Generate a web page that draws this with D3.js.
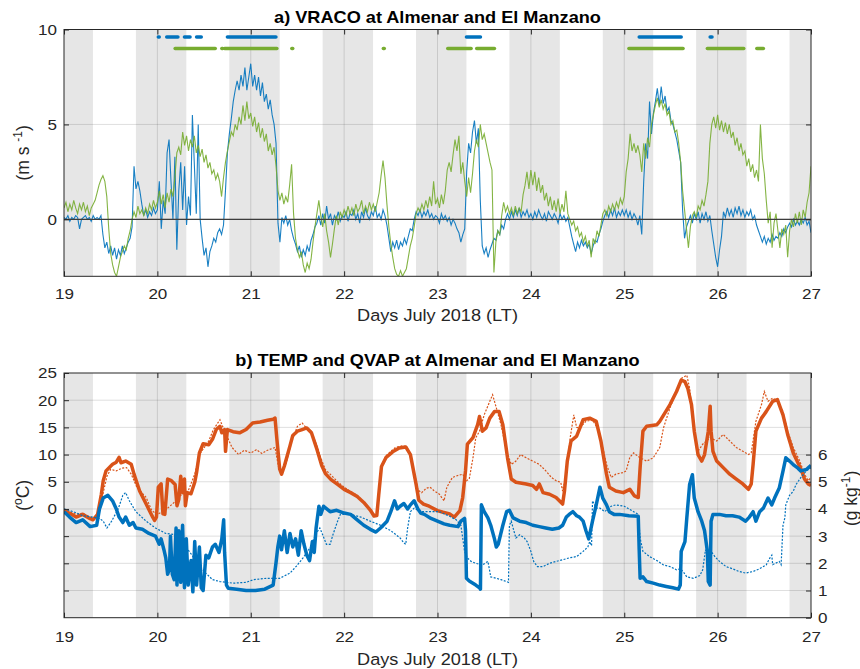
<!DOCTYPE html>
<html>
<head>
<meta charset="utf-8">
<script src="https://cdn.jsdelivr.net/npm/d3@7"></script>
<style>
  body { margin: 0; background: #ffffff; }
  svg text { font-family: "Liberation Sans", Arial, Helvetica, sans-serif; fill: #262626; }
</style>
</head>
<body>
<svg id="chart" width="860" height="669"></svg>
<script>
// ---------- shared time axis ----------
const dayTicks = [19, 20, 21, 22, 23, 24, 25, 26, 27];
// night periods (shaded bands), in days of July 2018 (LT)
const nights = [[19.0, 19.31], [19.77, 20.31], [20.77, 21.31], [21.77, 22.31], [22.77, 23.31],
                [23.77, 24.31], [24.77, 25.31], [25.77, 26.31], [26.77, 27.0]];

// ---------- panel a: VRACO (m s-1), half-hourly samples from 19 Jul 00:00 ----------
const vracoStart = 19;
const vracoStepDays = 1 / 48;
const vracoAlmenar = [
  0.1, 0.0, 0.2, -0.1, 0.1, 0.0, 0.2, 0.1, -0.5, 0.0, 0.1, 0.2, 0.0, 0.1, -0.1, 0.2, 0.0, 0.1, 0.0, 0.2,
  -0.8, -1.5, -1.2, -1.8, -1.4, -1.9, -1.5, -2.1, -1.6, -1.9, -1.4, -1.8, -1.5, -1.2, -1.0, -0.4,
  2.8, 1.6, 2.0, 1.5, 0.8, 0.2, 0.5, 0.1, 0.4, 0.2, 0.6, 0.3,
  0.5, 2.0, -0.5, 1.0, 0.3, 3.5, 4.2, 2.0, 0.0, 3.3, -1.6, 1.5,
  3.0, 0.5, 2.8, -0.3, 1.2, 0.2, 5.5, 2.9, 0.3, 5.0, 0.0, -1.0,
  -1.9, -1.5, -2.5, -1.7, -1.4, -1.0, -1.2, -0.7, -0.5, -0.8, -0.3, 1.5,
  3.5, 4.5, 5.3, 6.2, 6.8, 7.3, 6.8, 7.6, 7.0, 8.0, 6.8, 7.5,
  8.2, 7.0, 7.6, 6.8, 7.5, 6.5, 7.2, 6.2, 6.6, 5.8, 6.3, 5.5,
  5.0, 4.0, -0.2, -1.2, 0.1, -0.2, 0.2, -0.3, 0.0, -0.6, -1.0, -1.3,
  -1.7, -1.4, -2.0, -1.6, -1.9, -1.4, -1.7, -1.1, -0.8, -0.4, -0.2, 0.2,
  -0.3, 0.3, -0.2, 0.7, 0.0, 0.3, -0.3, 0.2, 0.0, 0.4, -0.1, 0.2,
  0.1, 0.4, -0.1, 0.3, 0.2, 0.5, 0.0, 0.3, -0.2, 0.4, 0.1, 0.6,
  0.2, 0.0, 0.4, 0.2, 0.7, 0.1, 0.3, 0.0, 0.5, 0.2, -0.3, -1.0,
  -1.7, -1.2, -1.5, -1.1, -1.6, -1.2, -1.4, -1.0, -1.3, -0.9, -0.5, -0.6,
  0.0, 0.4, 0.2, 0.5, 0.1, 0.4, 0.2, 0.5, 0.1, 0.3, 0.0, 0.2,
  0.1, -0.2, 0.3, 0.0, 0.2, -0.1, 0.1, -0.3, 0.0, -0.2, -0.5, -0.7,
  -1.2, -0.8, -0.5, 2.5, 4.0, 3.5, 4.6, 5.2, 4.0, 4.8, 1.0, -1.4,
  -1.8, -1.5, -2.0, -1.6, -1.3, -1.0, -1.1, -0.6, -0.8, -0.3, -0.5, 0.0,
  0.3, 0.0, 0.4, 0.1, 0.5, 0.2, 0.6, 0.1, 0.4, 0.2, 0.5, 0.1,
  0.3, 0.0, 0.4, 0.1, 0.5, 0.2, 0.0, 0.3, -0.1, 0.4, 0.2, 0.0,
  0.3, 0.1, -0.2, 0.3, 0.0, 0.2, -0.1, 0.1, -0.4, -0.9, -1.3, -1.7,
  -1.2, -1.5, -1.1, -1.4, -1.2, -1.5, -1.3, -1.8, -1.4, -1.1, -1.2, -0.8,
  -0.5, -0.1, 0.2, 0.4, 0.1, 0.5, 0.2, 0.6, 0.1, 0.4, 0.2, 0.5,
  0.2, 0.5, 0.1, 0.4, 0.0, 0.3, 0.1, -0.3, 0.2, -0.8, 2.0, 4.0,
  3.2, 6.2, 4.5, 5.6, 6.2, 6.9, 6.0, 7.0, 6.1, 6.5, 5.7, 5.9,
  5.2, 5.0, 4.6, 4.2, 3.6, 3.0, 0.5, -1.0, -0.4, -0.1, 0.2, -0.2,
  0.3, 0.0, 0.4, -0.2, 0.3, 0.0, 0.4, -0.1, 0.2, -0.6, -1.3, -2.0,
  -2.5, -1.6, -0.9, 0.4, 0.1, 0.6, 0.2, 0.5, 0.1, 0.6, 0.3, 0.7,
  0.2, 0.5, 0.1, 0.4, 0.2, 0.5, 0.0, 0.2, -0.3, -0.6, -0.9, -1.2,
  -0.9, -1.3, -1.0, -1.2, -0.8, -1.1, -0.9, -1.0, -0.7, -0.9, -0.5, -0.7,
  -0.4, -0.2, -0.4, 0.0, -0.3, -0.1, -0.3, 0.0, -0.2, 0.1, -0.3, -0.1,
  -0.7
];
const vracoManzano = [
  0.6, 0.9, 0.4, 0.8, 0.5, 1.0, 0.6, 0.3, 0.8, 0.5, 0.9, 0.4,
  0.7, 0.2, 0.6, 0.8, 1.0, 1.4, 1.8, 2.1, 2.3, 2.0, 1.2, -0.5,
  -1.8, -2.4, -2.8, -3.0, -2.5, -2.0, -1.7, -1.4, -1.6, -1.0, -0.6, 0.0,
  0.4, 0.1, 0.7, 0.3, 0.5, 0.2, 0.6, 0.3, 0.8, 0.5, 1.0, 0.6,
  0.9, 1.5, 0.8, 1.3, 0.6, 1.4, 0.9, 1.6, 1.2, 2.2, 3.5, 3.8,
  3.4, 4.6, 3.9, 4.4, 3.6, 4.2, 3.8, 4.4, 3.5, 3.9, 3.3, 3.7,
  3.0, 3.4, 2.7, 3.0, 2.4, 2.6, 2.1, 2.4, 2.0, 1.2, 2.2, 3.0,
  3.6, 4.1, 4.6, 4.4, 5.0, 4.7, 5.4, 5.0, 6.0, 5.2, 6.2, 5.3,
  5.6, 4.9, 5.4, 4.6, 5.1, 4.3, 4.8, 4.1, 4.5, 3.6, 4.0, 3.4,
  3.8, 2.8, 1.5, 1.0, 1.4, 0.8, 1.2, 0.9, 1.8, 2.9, 0.3, -1.0,
  -1.6, -2.0, -1.7, -2.4, -2.8, -2.3, -2.6, -2.1, -1.2, -0.4, 0.3, 1.0,
  0.2, -0.4, 0.3, -0.6, -1.2, -2.0, -1.3, -0.5, 0.2, -0.3, 0.4, 0.1,
  0.5, 0.2, 0.7, 0.3, 0.6, 0.2, 0.8, 0.4, 0.6, 1.0, 0.3, 0.7,
  0.4, 0.9, 0.5, 0.8, 0.4, 0.9, 1.4, 2.3, 3.1, 2.2, 0.8, -0.4,
  -1.3, -2.0, -2.6, -2.9, -3.0, -2.7, -3.0, -2.8, -2.6, -2.0, -1.4, -1.0,
  -0.4, 0.3, 0.6, 0.4, 0.8, 0.5, 1.0, 0.6, 1.2, 0.7, 2.0, 0.8,
  1.1, 0.6, 1.3, 0.8, 1.5, 2.6, 3.0, 2.5, 3.4, 4.2, 3.6, 4.4,
  2.4, 3.0, 2.0, 1.2, 2.2, 1.4, 2.4, 3.6, 4.2, 3.8, 5.0, 4.2,
  4.5, 4.0, 3.5, 3.0, 2.6, -2.8, -1.2, -0.6, -0.8, 0.2, 0.9, 0.4,
  0.7, 0.3, 0.6, 0.2, 0.7, 0.3, 0.6, 0.4, 1.3, 1.8, 2.5, 1.6,
  2.6, 1.8, 2.5, 1.5, 2.2, 1.4, 1.8, 1.0, 1.4, 0.7, 1.2, 0.5,
  1.0, 0.4, 1.1, 0.3, 0.8, 0.4, 1.5, 0.3, 0.0, -0.3, -0.1, -0.6,
  -0.4, -0.9, -0.7, -1.2, -0.9, -1.4, -1.1, -2.0, -1.0, -1.3, -0.6, -0.9,
  -0.3, 0.3, 0.5, 0.2, 0.7, 0.4, 0.8, 0.5, 0.9, 0.6, 1.1, 0.8,
  1.2, 2.5, 3.2, 4.5, 3.6, 4.0, 3.5, 3.9, 3.4, 2.5, 4.0, 3.2,
  4.3, 3.8, 5.0, 5.5, 6.0, 6.4, 5.9, 6.3, 5.8, 6.1, 5.5, 5.7,
  5.0, 5.2, 4.6, 4.7, 4.0, 3.0, 1.5, 0.5, -0.5, -1.5, -0.4, 0.2,
  0.4, 0.1, 0.7, 0.5, 1.0, 0.7, 1.3, 2.0, 4.0, 5.0, 5.4, 4.8,
  5.5, 4.7, 5.2, 4.6, 5.1, 4.5, 5.0, 4.3, 4.6, 3.9, 4.3, 3.6,
  4.0, 3.4, 3.6, 2.8, 3.2, 2.5, 2.9, 2.2, 2.6, 2.0, 5.0, 3.2,
  2.4, 1.0, -0.2, 0.4, -1.5, -0.2, 0.3, -0.6, -1.5, -0.5, -0.8, -0.3,
  -2.0, -0.6, 0.0, -0.4, 0.3, -0.2, 0.4, -0.3, 0.5, 0.1, 0.9, 1.4,
  2.8
];
// periods flagged at the top of panel a: [start day, end day]
const flagAlmenar = [[20.01, 20.02], [20.10, 20.22], [20.29, 20.35], [20.42, 20.47], [20.75, 21.27],
                     [23.31, 23.46], [25.16, 25.61], [25.92, 25.94]];
const flagManzano = [[20.19, 20.62], [20.69, 20.70], [20.72, 21.28], [21.44, 21.45], [22.42, 22.43],
                     [23.11, 23.36], [23.42, 23.61], [25.05, 25.63], [25.89, 26.28], [26.42, 26.49]];
const flagLevelAlmenar = 9.6;
const flagLevelManzano = 9.0;
const vracoTicks = [0, 5, 10];

// ---------- panel b: TEMP (left axis, oC) and QVAP (right axis, g kg-1), [day, value] ----------
const tempAlmenar = [
  [19.00, -0.3], [19.06, -0.8], [19.13, -1.5], [19.20, -1.0], [19.28, -1.8], [19.31, -2.0], [19.36, -1.0],
  [19.40, 2.7], [19.42, 5.2], [19.45, 7.0], [19.52, 8.2], [19.56, 8.6], [19.59, 9.5], [19.61, 8.5],
  [19.66, 8.8], [19.72, 8.2], [19.75, 6.4], [19.81, 3.3], [19.88, 0.9], [19.95, -1.5], [19.97, -2.1],
  [19.99, -1.5], [20.01, 4.0], [20.04, 4.6], [20.06, -0.9], [20.08, -1.0], [20.11, 5.5], [20.15, 5.2],
  [20.19, 4.5], [20.21, 0.6], [20.23, 1.8], [20.25, 6.0], [20.27, 3.0], [20.29, 5.5], [20.30, 0.6],
  [20.32, 3.0], [20.36, 2.8], [20.40, 4.9], [20.42, 6.7], [20.45, 10.3], [20.49, 12.0], [20.55, 11.8],
  [20.59, 12.8], [20.63, 14.6], [20.67, 15.2], [20.69, 14.0], [20.72, 14.6], [20.73, 10.6], [20.75, 14.6],
  [20.81, 14.2], [20.88, 14.0], [20.95, 14.6], [21.02, 15.8], [21.10, 16.0], [21.18, 16.3], [21.24, 16.5],
  [21.26, 16.7], [21.28, 12.8], [21.31, 7.3], [21.33, 6.4], [21.36, 7.9], [21.42, 11.6], [21.45, 13.5],
  [21.50, 14.3], [21.55, 14.6], [21.60, 14.9], [21.65, 14.0], [21.71, 10.9], [21.76, 8.0], [21.80, 6.5],
  [21.86, 5.4], [21.93, 4.5], [22.00, 3.6], [22.07, 3.0], [22.14, 2.3], [22.21, 1.2], [22.28, -0.2],
  [22.32, -1.3], [22.35, -1.2], [22.37, 2.5], [22.40, 7.8], [22.45, 9.5], [22.52, 10.5], [22.59, 11.2],
  [22.66, 11.4], [22.71, 10.0], [22.77, 4.6], [22.80, 1.6], [22.85, 0.9], [22.91, 0.5], [23.00, -0.3],
  [23.06, -0.6], [23.13, -0.9], [23.18, -1.5], [23.24, -0.3], [23.27, 2.1], [23.30, 7.0], [23.32, 11.9],
  [23.38, 13.1], [23.43, 15.5], [23.45, 17.0], [23.48, 14.3], [23.52, 14.9], [23.56, 16.7], [23.61, 17.9],
  [23.66, 17.9], [23.70, 15.5], [23.75, 9.4], [23.79, 5.5], [23.84, 4.9], [23.95, 4.6], [24.02, 4.3],
  [24.06, 3.6], [24.09, 4.6], [24.13, 3.0], [24.20, 2.7], [24.27, 2.1], [24.34, 0.9], [24.36, 3.3],
  [24.39, 8.8], [24.43, 12.5], [24.49, 13.4], [24.56, 16.4], [24.63, 16.7], [24.70, 16.1], [24.75, 12.5],
  [24.81, 6.4], [24.84, 4.0], [24.91, 3.3], [24.99, 3.0], [25.06, 3.6], [25.11, 2.4], [25.15, 2.1],
  [25.17, 7.6], [25.20, 14.3], [25.24, 15.2], [25.35, 15.5], [25.38, 16.1], [25.49, 19.2], [25.56, 21.6],
  [25.61, 23.7], [25.65, 23.4], [25.68, 22.2], [25.72, 19.2], [25.75, 14.3], [25.79, 10.0], [25.83, 8.8],
  [25.86, 10.0], [25.90, 14.3], [25.92, 18.9], [25.93, 14.3], [25.95, 10.6], [25.99, 8.8], [26.06, 7.6],
  [26.13, 6.4], [26.20, 5.5], [26.27, 4.6], [26.33, 3.6], [26.36, 4.6], [26.38, 8.2], [26.41, 14.3],
  [26.47, 16.7], [26.52, 17.9], [26.59, 19.8], [26.64, 20.1], [26.70, 17.3], [26.75, 13.7], [26.81, 10.3],
  [26.86, 8.5], [26.90, 7.0], [26.93, 5.5], [26.97, 4.6], [27.00, 4.3]
];
const tempManzano = [
  [19.00, 0.0], [19.06, -0.5], [19.13, -1.0], [19.20, -0.8], [19.28, -1.5], [19.34, -1.7], [19.38, -0.5],
  [19.42, 3.0], [19.46, 6.0], [19.50, 7.3], [19.56, 7.0], [19.62, 7.5], [19.67, 7.6], [19.72, 6.4],
  [19.78, 4.0], [19.88, 2.1], [19.94, -0.3], [20.00, -1.0], [20.10, 0.0], [20.20, 1.5], [20.25, 2.5],
  [20.33, 3.3], [20.40, 6.4], [20.45, 10.0], [20.55, 12.5], [20.60, 14.6], [20.67, 16.4], [20.72, 14.3],
  [20.80, 11.3], [20.87, 10.0], [20.93, 10.8], [21.00, 10.3], [21.06, 10.9], [21.12, 10.2], [21.18, 10.8],
  [21.26, 11.3], [21.30, 7.5], [21.34, 7.0], [21.38, 8.5], [21.44, 12.5], [21.50, 15.2], [21.55, 15.8],
  [21.60, 14.8], [21.65, 14.3], [21.71, 11.5], [21.75, 9.4], [21.80, 7.2], [21.85, 6.4], [21.93, 5.0],
  [22.00, 4.0], [22.07, 3.2], [22.14, 2.5], [22.21, 1.3], [22.28, 0.0], [22.32, -1.0], [22.35, -0.8],
  [22.37, 3.0], [22.40, 8.0], [22.45, 9.8], [22.50, 10.6], [22.55, 11.3], [22.62, 11.6], [22.67, 11.5],
  [22.71, 10.0], [22.76, 6.0], [22.79, 3.5], [22.83, 3.0], [22.88, 3.8], [22.92, 4.0], [22.96, 3.4],
  [23.02, 2.7], [23.07, 1.5], [23.10, 4.0], [23.16, 5.8], [23.21, 6.1], [23.27, 6.4], [23.31, 5.2],
  [23.34, 5.5], [23.38, 9.4], [23.41, 13.1], [23.45, 14.3], [23.50, 17.3], [23.56, 19.8], [23.59, 21.0],
  [23.63, 18.6], [23.68, 15.5], [23.74, 10.6], [23.79, 8.2], [23.84, 8.8], [23.89, 10.0], [23.95, 9.4],
  [24.02, 8.8], [24.09, 8.2], [24.16, 7.0], [24.22, 5.8], [24.27, 5.2], [24.32, 4.9], [24.34, 3.3],
  [24.38, 6.4], [24.42, 13.0], [24.46, 17.3], [24.49, 15.0], [24.52, 14.9], [24.59, 16.1], [24.66, 16.4],
  [24.73, 14.3], [24.81, 8.2], [24.86, 5.8], [24.91, 6.4], [24.99, 6.7], [25.02, 7.0], [25.06, 9.5],
  [25.10, 10.3], [25.17, 9.4], [25.24, 8.8], [25.31, 9.4], [25.38, 11.3], [25.42, 14.9], [25.49, 18.6],
  [25.56, 21.6], [25.61, 24.0], [25.67, 24.6], [25.70, 22.2], [25.75, 14.3], [25.79, 10.6], [25.84, 11.9],
  [25.92, 13.1], [25.99, 12.5], [26.06, 13.7], [26.13, 12.5], [26.20, 11.3], [26.27, 10.6], [26.33, 10.0],
  [26.36, 10.3], [26.41, 16.1], [26.47, 19.2], [26.50, 21.6], [26.54, 19.8], [26.59, 20.4], [26.64, 19.8],
  [26.70, 17.9], [26.75, 14.3], [26.81, 11.3], [26.88, 8.8], [26.93, 6.4], [26.97, 5.2], [27.00, 5.8]
];
const qvapAlmenar = [
  [19.00, 3.9], [19.06, 3.7], [19.13, 3.5], [19.20, 3.6], [19.28, 3.35], [19.35, 3.4], [19.38, 4.0],
  [19.42, 4.4], [19.47, 4.5], [19.52, 4.3], [19.56, 4.0], [19.59, 3.7], [19.63, 3.5], [19.66, 3.7],
  [19.70, 3.4], [19.74, 3.5], [19.77, 3.3], [19.84, 3.25], [19.91, 3.1], [19.98, 3.0], [20.02, 2.7],
  [20.04, 2.9], [20.07, 2.5], [20.09, 2.2], [20.11, 1.6], [20.13, 1.8], [20.14, 3.0], [20.16, 1.6],
  [20.18, 1.4], [20.20, 3.3], [20.21, 1.2], [20.23, 3.2], [20.25, 1.3], [20.27, 3.4], [20.29, 1.1],
  [20.31, 2.9], [20.33, 1.2], [20.36, 2.1], [20.38, 0.95], [20.40, 2.8], [20.42, 1.2], [20.45, 2.6],
  [20.47, 1.1], [20.49, 1.0], [20.52, 2.3], [20.55, 2.2], [20.59, 2.6], [20.62, 2.7], [20.66, 2.4],
  [20.69, 2.9], [20.71, 3.6], [20.72, 2.4], [20.74, 1.2], [20.76, 1.08], [20.85, 1.05], [20.95, 1.0],
  [21.05, 1.0], [21.15, 1.05], [21.24, 1.2], [21.27, 2.0], [21.29, 2.6], [21.31, 3.0], [21.33, 2.5],
  [21.36, 3.2], [21.39, 2.4], [21.42, 3.1], [21.45, 2.6], [21.48, 2.9], [21.51, 2.3], [21.54, 3.2],
  [21.57, 2.7], [21.60, 2.3], [21.63, 2.1], [21.66, 2.8], [21.68, 2.4], [21.70, 3.3], [21.73, 4.1],
  [21.75, 3.8], [21.78, 4.1], [21.85, 3.9], [21.92, 3.95], [22.00, 3.85], [22.07, 3.8], [22.14, 3.6],
  [22.21, 3.4], [22.28, 3.25], [22.34, 3.15], [22.39, 3.3], [22.46, 3.55], [22.50, 3.9], [22.54, 4.3],
  [22.57, 4.0], [22.60, 4.1], [22.64, 4.2], [22.68, 4.0], [22.71, 4.15], [22.75, 4.3], [22.79, 4.0],
  [22.82, 3.85], [22.86, 3.8], [22.93, 3.65], [23.00, 3.55], [23.07, 3.45], [23.13, 3.4], [23.22, 3.35],
  [23.25, 3.55], [23.29, 3.65], [23.30, 3.2], [23.31, 1.45], [23.34, 1.35], [23.41, 1.2], [23.45, 1.1],
  [23.46, 1.05], [23.47, 4.15], [23.50, 3.9], [23.54, 3.67], [23.57, 3.4], [23.61, 2.9], [23.63, 2.6],
  [23.65, 2.7], [23.70, 3.4], [23.74, 3.9], [23.77, 3.95], [23.81, 3.67], [23.88, 3.55], [23.95, 3.5],
  [24.02, 3.4], [24.09, 3.35], [24.16, 3.3], [24.23, 3.25], [24.30, 3.3], [24.34, 3.4], [24.38, 3.7],
  [24.41, 3.8], [24.45, 3.9], [24.49, 3.75], [24.52, 3.7], [24.56, 3.55], [24.59, 3.2], [24.62, 2.9],
  [24.66, 3.55], [24.70, 4.15], [24.74, 4.8], [24.77, 4.4], [24.81, 4.15], [24.84, 3.9], [24.89, 3.8],
  [24.95, 3.8], [25.05, 3.75], [25.15, 3.73], [25.16, 2.5], [25.17, 1.45], [25.20, 1.5], [25.24, 1.33],
  [25.31, 1.27], [25.38, 1.2], [25.45, 1.15], [25.52, 1.1], [25.58, 1.05], [25.60, 1.2], [25.61, 2.44],
  [25.65, 2.8], [25.67, 3.67], [25.70, 4.9], [25.73, 5.26], [25.75, 4.4], [25.79, 3.9], [25.83, 3.55],
  [25.86, 3.2], [25.89, 2.44], [25.90, 1.33], [25.92, 1.2], [25.93, 3.55], [25.95, 3.8], [26.02, 3.8],
  [26.09, 3.75], [26.16, 3.75], [26.23, 3.7], [26.30, 3.55], [26.34, 3.7], [26.38, 3.9], [26.41, 3.55],
  [26.45, 3.9], [26.49, 4.03], [26.54, 4.4], [26.58, 4.15], [26.61, 4.4], [26.66, 4.77], [26.70, 5.39],
  [26.73, 5.88], [26.77, 5.76], [26.82, 5.6], [26.86, 5.5], [26.89, 5.4], [26.95, 5.45], [27.00, 5.6]
];
const qvapManzano = [
  [19.00, 4.0], [19.10, 3.9], [19.20, 3.75], [19.31, 3.7], [19.38, 3.65], [19.42, 3.55], [19.46, 3.3],
  [19.51, 3.55], [19.58, 4.0], [19.63, 4.5], [19.66, 4.6], [19.70, 4.3], [19.77, 3.9], [19.88, 3.55],
  [19.98, 3.3], [20.09, 3.1], [20.20, 3.05], [20.35, 2.4], [20.45, 1.9], [20.52, 1.64], [20.59, 1.4],
  [20.67, 1.33], [20.81, 1.27], [20.95, 1.3], [21.03, 1.4], [21.17, 1.45], [21.31, 1.45], [21.42, 1.64],
  [21.49, 1.9], [21.56, 2.2], [21.64, 2.6], [21.70, 3.1], [21.74, 3.3], [21.77, 3.05], [21.81, 2.7],
  [21.85, 2.7], [21.88, 3.05], [21.93, 3.55], [21.96, 3.8], [22.07, 3.8], [22.18, 3.7], [22.28, 3.55],
  [22.39, 3.4], [22.50, 3.2], [22.60, 2.93], [22.64, 2.75], [22.66, 2.7], [22.68, 3.3], [22.71, 3.9],
  [22.75, 4.03], [22.82, 3.9], [22.93, 3.9], [23.02, 3.9], [23.13, 3.73], [23.20, 3.6], [23.25, 3.4],
  [23.27, 2.93], [23.29, 2.44], [23.32, 2.2], [23.36, 2.07], [23.41, 2.0], [23.48, 1.94], [23.54, 2.07],
  [23.56, 1.7], [23.57, 1.5], [23.63, 1.45], [23.68, 1.4], [23.74, 1.33], [23.76, 1.3], [23.77, 3.4],
  [23.79, 3.55], [23.82, 3.17], [23.84, 2.93], [23.88, 3.05], [23.93, 2.93], [23.96, 2.8], [24.00, 2.44],
  [24.03, 2.07], [24.07, 1.88], [24.13, 1.88], [24.20, 2.0], [24.27, 2.07], [24.34, 2.13], [24.41, 2.2],
  [24.49, 2.25], [24.56, 2.44], [24.61, 2.6], [24.63, 2.8], [24.65, 2.65], [24.66, 4.3], [24.70, 4.03],
  [24.74, 4.03], [24.79, 3.9], [24.86, 4.1], [24.91, 4.15], [25.00, 4.1], [25.10, 3.9], [25.15, 3.8],
  [25.17, 2.93], [25.20, 2.44], [25.27, 2.25], [25.35, 2.1], [25.42, 1.94], [25.49, 1.88], [25.56, 1.76],
  [25.60, 1.8], [25.63, 1.7], [25.67, 1.5], [25.74, 1.45], [25.81, 1.55], [25.84, 1.76], [25.87, 2.5],
  [25.90, 2.2], [25.93, 2.44], [25.97, 2.25], [26.02, 2.07], [26.09, 1.88], [26.16, 1.8], [26.23, 1.7],
  [26.30, 1.64], [26.38, 1.7], [26.45, 1.8], [26.52, 1.94], [26.56, 2.2], [26.58, 2.3], [26.59, 1.95],
  [26.66, 2.07], [26.68, 1.95], [26.70, 3.4], [26.72, 3.67], [26.73, 4.15], [26.77, 4.5], [26.81, 4.65],
  [26.84, 4.9], [26.89, 5.15], [26.95, 5.4], [27.00, 5.5]
];
const tempTicks = [-15, -10, -5, 0, 5, 10, 15, 20, 25];
const tempLabelled = [0, 5, 10, 15, 20, 25];
const qvapTicks = [0, 1, 2, 3, 4, 5, 6];

// ---------- drawing ----------
const BLUE = "#0072BD", GREEN = "#77AC30", ORANGE = "#D95319";
const NIGHT = "#e6e6e6", GRID = "rgba(38,38,38,0.15)", AXIS = "#262626";
const WIDEN = 1.1;           // horizontal widening of the lettering
const TICK_FS = "15.5px", LABEL_FS = "16.5px";

const svg = d3.select("#chart");
svg.append("rect").attr("width", 860).attr("height", 669).attr("fill", "#fff");

const x = d3.scaleLinear().domain([19, 27]).range([64, 811]);
const yV = d3.scaleLinear().domain([-3, 10]).range([276.3, 29.5]);
const yT = d3.scaleLinear().domain([-20, 25]).range([617.7, 373]);
const yQ = d3.scaleLinear().domain([0, 9]).range([617.7, 373]);

function panelBase(id, y) {
  const [yb, yt] = y.range();
  const g = svg.append("g");
  svg.append("clipPath").attr("id", id).append("rect")
    .attr("x", x(19)).attr("y", yt).attr("width", x(27) - x(19)).attr("height", yb - yt);
  g.selectAll("rect.night").data(nights).join("rect").attr("class", "night")
    .attr("x", d => x(d[0])).attr("width", d => x(d[1]) - x(d[0]))
    .attr("y", yt).attr("height", yb - yt).attr("fill", NIGHT);
  g.selectAll("line.vg").data(dayTicks.slice(1, -1)).join("line").attr("class", "vg")
    .attr("x1", d => x(d)).attr("x2", d => x(d)).attr("y1", yt).attr("y2", yb)
    .attr("stroke", GRID).attr("stroke-width", 1);
  return { g, yb, yt };
}

function hGrid(g, y, values) {
  g.selectAll(null).data(values).join("line")
    .attr("x1", x(19)).attr("x2", x(27)).attr("y1", d => y(d)).attr("y2", d => y(d))
    .attr("stroke", GRID).attr("stroke-width", 1);
}

function styleAxis(a) {
  a.select(".domain").remove();
  a.attr("font-family", null).attr("font-size", null);
  a.selectAll("line").attr("stroke", AXIS);
  a.selectAll("text").attr("font-size", TICK_FS).attr("fill", AXIS)
    .attr("transform", `scale(${WIDEN},1)`);
}

function frameAndAxes(yb, yt, padX) {
  const bottom = svg.append("g").attr("transform", `translate(0,${yb})`)
    .call(d3.axisBottom(x).tickValues(dayTicks).tickSizeInner(-5).tickSizeOuter(0).tickPadding(padX));
  styleAxis(bottom);
  const top = svg.append("g").attr("transform", `translate(0,${yt})`)
    .call(d3.axisTop(x).tickValues(dayTicks).tickSizeInner(-5).tickSizeOuter(0).tickFormat(""));
  styleAxis(top);
  svg.append("rect").attr("x", x(19)).attr("y", yt).attr("width", x(27) - x(19)).attr("height", yb - yt)
    .attr("fill", "none").attr("stroke", AXIS).attr("stroke-width", 1);
}

function hText(cx, y, str, size, bold) {
  return svg.append("text").attr("transform", `translate(${cx},${y}) scale(${WIDEN},1)`)
    .attr("text-anchor", "middle").attr("font-size", size)
    .attr("font-weight", bold ? "bold" : null).style("fill", bold ? "#000" : AXIS).text(str);
}

function vText(cx, cy, parts) {
  const t = svg.append("text").attr("transform", `translate(${cx},${cy}) rotate(-90)`)
    .attr("text-anchor", "middle").attr("font-size", "17.5px");
  parts.forEach(p => {
    const s = t.append("tspan").text(p.s);
    if (p.sup) s.attr("font-size", "12px").attr("dy", "-7");
    if (p.down) s.attr("dy", "7");
  });
}

// ----- panel a -----
{
  const { g, yb, yt } = panelBase("clipA", yV);
  hGrid(g, yV, vracoTicks);
  const pts = arr => arr.map((v, i) => [vracoStart + i * vracoStepDays, v]);
  const line = d3.line().x(d => x(d[0])).y(d => yV(d[1]));
  const data = svg.append("g").attr("clip-path", "url(#clipA)");
  data.append("path").datum(pts(vracoAlmenar)).attr("d", line)
    .attr("fill", "none").attr("stroke", BLUE).attr("stroke-width", 1.1).attr("stroke-opacity", 0.9);
  data.append("path").datum(pts(vracoManzano)).attr("d", line)
    .attr("fill", "none").attr("stroke", GREEN).attr("stroke-width", 1.1).attr("stroke-opacity", 0.9);
  data.append("line").attr("x1", x(19)).attr("x2", x(27)).attr("y1", yV(0)).attr("y2", yV(0))
    .attr("stroke", "#3c3c3c").attr("stroke-width", 1.4);
  data.selectAll("line.fa").data(flagAlmenar).join("line").attr("class", "fa")
    .attr("x1", d => x(d[0])).attr("x2", d => x(d[1]))
    .attr("y1", yV(flagLevelAlmenar)).attr("y2", yV(flagLevelAlmenar))
    .attr("stroke", BLUE).attr("stroke-width", 3.5).attr("stroke-linecap", "round");
  data.selectAll("line.fm").data(flagManzano).join("line").attr("class", "fm")
    .attr("x1", d => x(d[0])).attr("x2", d => x(d[1]))
    .attr("y1", yV(flagLevelManzano)).attr("y2", yV(flagLevelManzano))
    .attr("stroke", GREEN).attr("stroke-width", 3.5).attr("stroke-linecap", "round");

  frameAndAxes(yb, yt, 12);
  styleAxis(svg.append("g").attr("transform", `translate(${x(19)},0)`)
    .call(d3.axisLeft(yV).tickValues(vracoTicks).tickSizeInner(-5).tickSizeOuter(0).tickPadding(6.4)));
  styleAxis(svg.append("g").attr("transform", `translate(${x(27)},0)`)
    .call(d3.axisRight(yV).tickValues(vracoTicks).tickSizeInner(-5).tickSizeOuter(0).tickFormat("")));

  hText((x(19) + x(27)) / 2, 22.5, "a) VRACO at Almenar and El Manzano", LABEL_FS, true);
  hText((x(19) + x(27)) / 2, 321, "Days July 2018 (LT)", LABEL_FS, false);
  vText(29, (yb + yt) / 2, [{ s: "(m s " }, { s: "-1", sup: true }, { s: ")", down: true }]);
}

// ----- panel b -----
{
  const { g, yb, yt } = panelBase("clipB", yT);
  hGrid(g, yT, tempTicks.filter(v => v < 25));
  const lT = d3.line().x(d => x(d[0])).y(d => yT(d[1]));
  const lQ = d3.line().x(d => x(d[0])).y(d => yQ(d[1]));
  const data = svg.append("g").attr("clip-path", "url(#clipB)");
  data.append("path").datum(tempManzano).attr("d", lT).attr("fill", "none")
    .attr("stroke", ORANGE).attr("stroke-width", 1.2).attr("stroke-dasharray", "2,1.5");
  data.append("path").datum(tempAlmenar).attr("d", lT).attr("fill", "none")
    .attr("stroke", ORANGE).attr("stroke-width", 3.5).attr("stroke-linejoin", "round");
  data.append("path").datum(qvapManzano).attr("d", lQ).attr("fill", "none")
    .attr("stroke", BLUE).attr("stroke-width", 1.2).attr("stroke-dasharray", "2,1.5");
  data.append("path").datum(qvapAlmenar).attr("d", lQ).attr("fill", "none")
    .attr("stroke", BLUE).attr("stroke-width", 3.5).attr("stroke-linejoin", "round");

  frameAndAxes(yb, yt, 13);
  styleAxis(svg.append("g").attr("transform", `translate(${x(19)},0)`)
    .call(d3.axisLeft(yT).tickValues(tempTicks).tickSizeInner(-5).tickSizeOuter(0).tickPadding(6.4)
      .tickFormat(d => tempLabelled.includes(d) ? d : "")));
  styleAxis(svg.append("g").attr("transform", `translate(${x(27)},0)`)
    .call(d3.axisRight(yQ).tickValues(qvapTicks).tickSizeInner(-5).tickSizeOuter(0).tickPadding(6.4)));

  hText((x(19) + x(27)) / 2, 366, "b) TEMP and QVAP at Almenar and El Manzano", LABEL_FS, true);
  hText((x(19) + x(27)) / 2, 665, "Days July 2018 (LT)", LABEL_FS, false);
  vText(29, (yb + yt) / 2, [{ s: "(" }, { s: "o", sup: true }, { s: "C)", down: true }]);
  vText(857, (yb + yt) / 2 + 3, [{ s: "(g kg" }, { s: "-1", sup: true }, { s: ")", down: true }]);
}
</script>
</body>
</html>
